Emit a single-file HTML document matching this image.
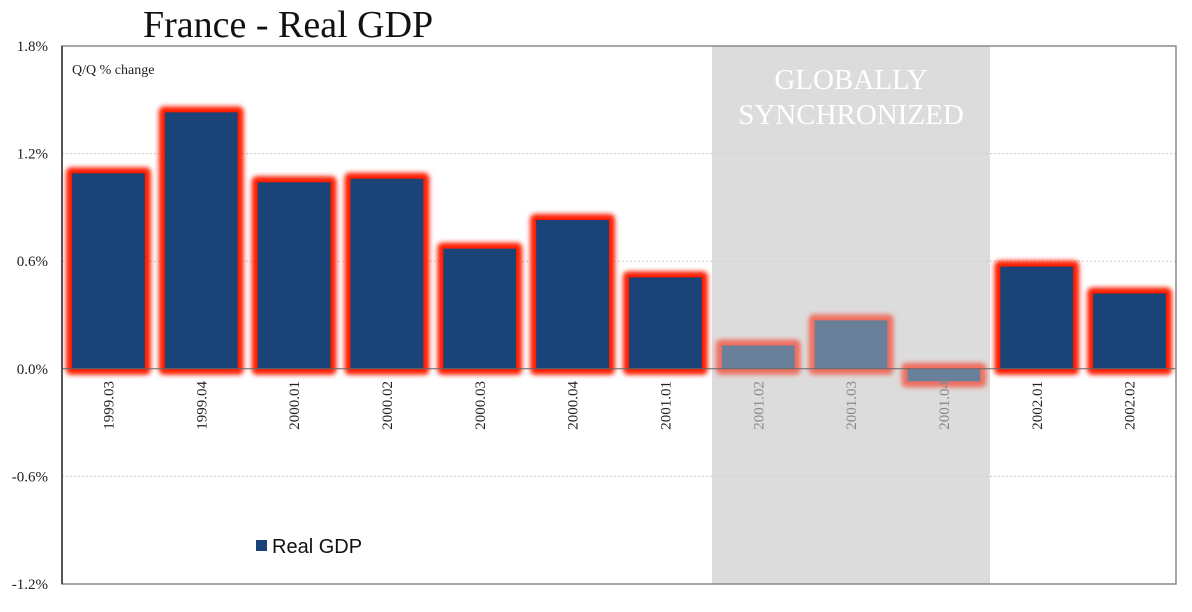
<!DOCTYPE html>
<html><head><meta charset="utf-8"><style>
body{margin:0;background:#fff;}
svg{display:block;font-family:"Liberation Serif",serif;}
</style></head><body>
<svg id="c" width="1192" height="612" viewBox="0 0 1192 612">
<defs><filter id="glow" x="-20%" y="-20%" width="140%" height="140%"><feGaussianBlur stdDeviation="2.5"/></filter></defs>
<text x="143" y="37" font-size="38" fill="#111">France - Real GDP</text>
<rect x="712" y="46" width="278" height="538" fill="#dcdcdc"/>
<g id="grid"></g>
<g id="bars"></g>
<g id="labels"></g>
<rect x="62" y="46" width="1114" height="538" fill="none" stroke="#888" stroke-width="1.5"/>
<line x1="62" y1="46" x2="62" y2="584" stroke="#333" stroke-width="1.5"/>
<text x="851" y="89" text-anchor="middle" font-size="29" fill="#fff">GLOBALLY</text>
<text x="851" y="124" text-anchor="middle" font-size="29" fill="#fff">SYNCHRONIZED</text>
<text x="72" y="74" font-size="14" fill="#222">Q/Q % change</text>
<rect x="256" y="540" width="11" height="11" fill="#1a4478"/>
<text x="272" y="553" font-size="20" font-family="Liberation Sans, sans-serif" fill="#111">Real GDP</text>
</svg>
<script>
const categories=["1999.03","1999.04","2000.01","2000.02","2000.03","2000.04","2001.01","2001.02","2001.03","2001.04","2002.01","2002.02"];
const values=[1.09,1.43,1.04,1.06,0.67,0.83,0.51,0.13,0.27,-0.07,0.57,0.42];
const ticks=[1.8,1.2,0.6,0,-0.6,-1.2];
const tickLabels=["1.8%","1.2%","0.6%","0.0%","-0.6%","-1.2%"];
const NS="http://www.w3.org/2000/svg";
const L=62,R=1176,T=46,B=584,ymin=-1.2,ymax=1.8,bandX0=712,bandX1=990;
const y=v=>T+(ymax-v)/(ymax-ymin)*(B-T);
const bw=(R-L)/categories.length;
const x=i=>L+i*bw;
function mk(tag,attrs,parent){const e=document.createElementNS(NS,tag);for(const k in attrs)e.setAttribute(k,attrs[k]);document.getElementById(parent).appendChild(e);return e;}
ticks.forEach((t,i)=>{
  if(t!==0&&t!==ymax&&t!==ymin){const g=mk('line',{x1:L,x2:R,y1:y(t),y2:y(t),stroke:'#ccc','stroke-dasharray':'2,2'},'grid');
  
  }
  const tl=mk('text',{x:48,y:y(t)+5,'text-anchor':'end','font-size':15,fill:'#222'},'labels');
  tl.textContent=tickLabels[i];
  
  
});
values.forEach((v,i)=>{
  const cx=x(i)+bw/2;
  const inBand=cx>bandX0&&cx<bandX1;
  const x0=x(i)+10,w=bw-20,top=Math.min(y(v),y(0)),h=Math.abs(y(v)-y(0));
  const g=mk('rect',{x:x0-6,y:top-6,width:w+12,height:h+12,rx:5,fill:inBand?'#ee7060':'#ff1a00',filter:'url(#glow)'},'bars');
  
  
  const b=mk('rect',{x:x0,y:top,width:w,height:h,fill:inBand?'#6a809a':'#1a4478'},'bars');
  
  
  const t=mk('text',{x:0,y:0,'text-anchor':'end','font-size':15,fill:inBand?'#888':'#222',transform:`translate(${cx+5},381) rotate(-90)`},'labels');
  t.textContent=categories[i];
  
  
});
const z=mk('line',{x1:L,x2:R,y1:y(0),y2:y(0),stroke:'#666'},'labels');


</script>
</body></html>
